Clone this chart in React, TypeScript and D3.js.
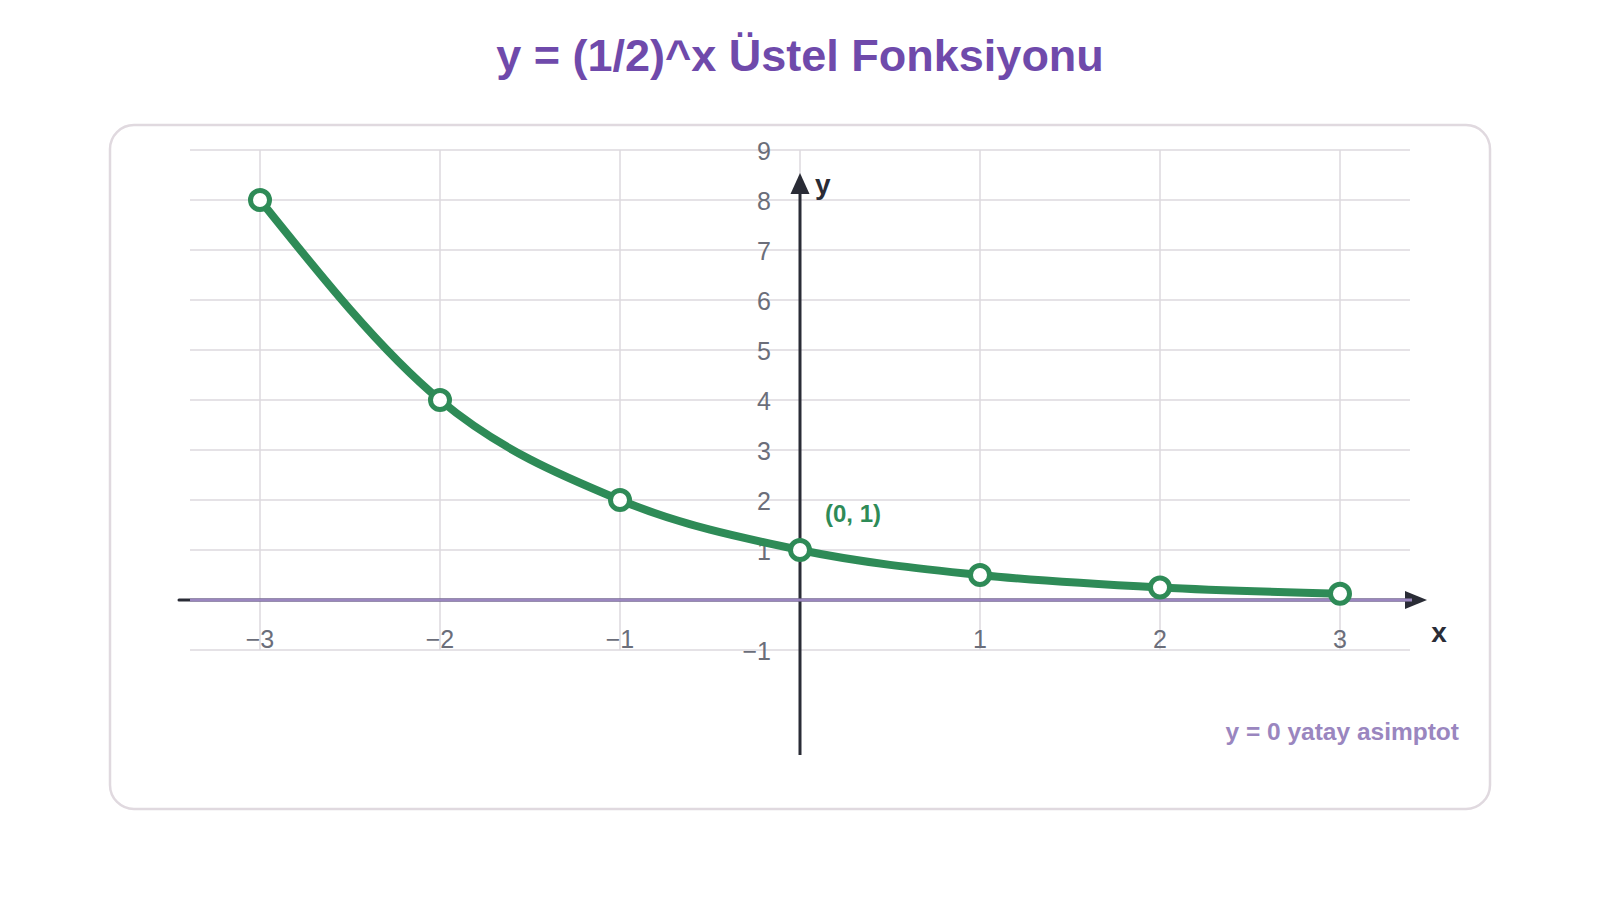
import * as d3 from "d3";

const xValues = [-3, -2, -1, 0, 1, 2, 3];
const yValues = [8, 4, 2, 1, 0.5, 0.25, 0.125];
const xGrid = [-3, -2, -1, 0, 1, 2, 3];
const yGrid = [-1, 0, 1, 2, 3, 4, 5, 6, 7, 8, 9];
const xTickLabels = [-3, -2, -1, 1, 2, 3];
const yTickLabels = [-1, 1, 2, 3, 4, 5, 6, 7, 8, 9];

const W = 1600;
const H = 900;
const font = "'Liberation Sans', Arial, Helvetica, sans-serif";
const green = "#2e8b57";
const purple = "#9a86bf";
const dark = "#2a2c36";
const grey = "#6b6e7a";

const fmt = (v: number) => (v < 0 ? "\u2212" + Math.abs(v) : String(v));

export default function App() {
  const x = d3.scaleLinear().domain([-3, 3]).range([260, 1340]);
  const y = d3.scaleLinear().domain([-1, 9]).range([650, 150]);

  const pts = xValues.map((v, i) => ({ x: v, y: yValues[i] }));
  const line = d3
    .line<{ x: number; y: number }>()
    .x((d) => x(d.x))
    .y((d) => y(d.y))
    .curve(d3.curveMonotoneX);

  const gx0 = 190;
  const gx1 = 1410;

  return (
    <svg
      width={W}
      height={H}
      style={{ position: "absolute", left: 0, top: 0, background: "#fff" }}
      fontFamily={font}
    >
      <text x={800} y={55} textAnchor="middle" dominantBaseline="central" fontSize={45} fontWeight="bold" fill="#6f4aab">
        y = (1/2)^x Üstel Fonksiyonu
      </text>

      <rect x={110} y={125} width={1380} height={684} rx={24} fill="#fff" stroke="#e0d9df" strokeWidth={2.5} />

      <g stroke="#dcd8de" strokeWidth={1.5}>
        {yGrid.map((v) => (
          <line key={"h" + v} x1={gx0} x2={gx1} y1={y(v)} y2={y(v)} />
        ))}
        {xGrid.map((v) => (
          <line key={"v" + v} x1={x(v)} x2={x(v)} y1={y(9)} y2={y(-1)} />
        ))}
      </g>

      {/* x axis */}
      <line x1={179} x2={1410} y1={y(0)} y2={y(0)} stroke={dark} strokeWidth={3} strokeLinecap="round" />
      <path d={`M1427,${y(0)} L1405,${y(0) - 9} L1405,${y(0) + 9} Z`} fill={dark} />
      {/* y axis */}
      <line x1={x(0)} x2={x(0)} y1={190} y2={755} stroke={dark} strokeWidth={3} />
      <path d={`M${x(0)},173 L${x(0) - 9.5},194 L${x(0) + 9.5},194 Z`} fill={dark} />

      {/* asymptote */}
      <line x1={gx0} x2={1412} y1={y(0)} y2={y(0)} stroke={purple} strokeWidth={3.2} />

      <g fontSize={25} fill={grey}>
        {xTickLabels.map((v) => (
          <text key={"xt" + v} x={x(v)} y={639} textAnchor="middle" dominantBaseline="central">
            {fmt(v)}
          </text>
        ))}
        {yTickLabels.map((v) => (
          <text key={"yt" + v} x={771} y={y(v) + 1} textAnchor="end" dominantBaseline="central">
            {fmt(v)}
          </text>
        ))}
      </g>

      <text x={1439} y={632} textAnchor="middle" dominantBaseline="central" fontSize={28} fontWeight="bold" fill={dark}>
        x
      </text>
      <text x={815} y={184} dominantBaseline="central" fontSize={28} fontWeight="bold" fill={dark}>
        y
      </text>

      <path d={line(pts) ?? ""} fill="none" stroke={green} strokeWidth={8} strokeLinecap="round" />
      {pts.map((d) => (
        <circle key={"p" + d.x} cx={x(d.x)} cy={y(d.y)} r={9.5} fill="#fff" stroke={green} strokeWidth={5} />
      ))}

      <text x={825} y={513} dominantBaseline="central" fontSize={24} fontWeight="bold" fill={green}>
        (0, 1)
      </text>
      <text x={1459} y={731} textAnchor="end" dominantBaseline="central" fontSize={24.5} fontWeight="bold" fill={purple}>
        y = 0 yatay asimptot
      </text>
    </svg>
  );
}
